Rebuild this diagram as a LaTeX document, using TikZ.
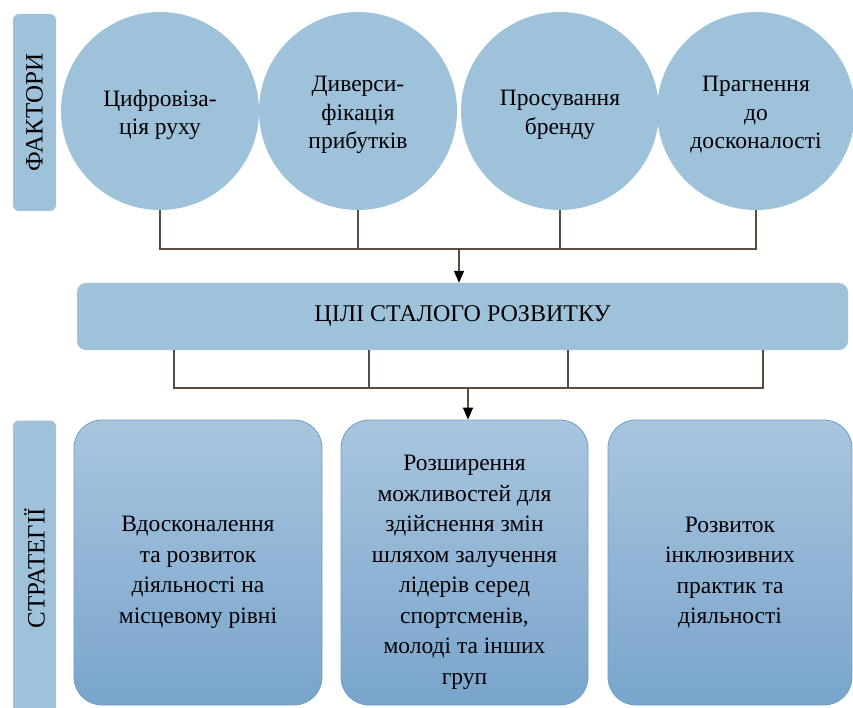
\documentclass[tikz,border=0pt]{standalone}
\usepackage{fontspec}
\setmainfont{Liberation Serif}
\usetikzlibrary{arrows.meta}
\definecolor{softblue}{HTML}{9DC2D9}
\definecolor{boxtop}{HTML}{A9C5DE}
\definecolor{boxbottom}{HTML}{79A5CC}
\definecolor{boxline}{HTML}{6C9DC7}
\definecolor{linkbrown}{HTML}{5B4C3F}

\tikzset{
  sidelabel/.style={rounded corners=6pt, fill=softblue, minimum height=43pt,
    inner sep=0pt, rotate=90, font=\fontsize{25}{28}\selectfont},
  factor/.style={circle, fill=softblue, minimum size=198pt, inner sep=0pt},
  factortext/.style={align=center, inner sep=0pt, yshift=-4pt,
    font=\fontsize{23.5}{28.5}\selectfont},
  goalbar/.style={rounded corners=9pt, fill=softblue, minimum width=771pt,
    minimum height=67pt, font=\fontsize{24}{28}\selectfont},
  strategy/.style={rounded corners=28pt, draw=boxline, line width=0.8pt,
    top color=boxtop, bottom color=boxbottom, minimum width=248pt,
    minimum height=285pt, inner sep=0pt},
  strategytext/.style={align=center, inner sep=0pt, yshift=-10pt,
    font=\fontsize{23.5}{30.5}\selectfont},
  link/.style={draw=linkbrown, line width=1.2pt},
  arr/.style={link, -{Triangle[length=12pt,width=10pt,color=black]}}
}

\begin{document}
\begin{tikzpicture}[x=1pt,y=-1pt]
\useasboundingbox (0,0) rectangle (853,708);

% side labels
\node[sidelabel, minimum width=197pt] (factors) at (34.5,112.5) {ФАКТОРИ};
\node[sidelabel, minimum width=295pt] (strategies) at (34.5,568) {СТРАТЕГІЇ};

% factors
\node[factor] (c1) at (160,111) {};
\node[factor] (c2) at (358,111) {};
\node[factor] (c3) at (560,111) {};
\node[factor] (c4) at (756,111) {};
\node[factortext] (c1text) at (c1) {Цифровіза-\\ція руху};
\node[factortext] (c2text) at (c2) {Диверси-\\фікація\\прибутків};
\node[factortext] (c3text) at (c3) {Просування\\бренду};
\node[factortext] (c4text) at (c4) {Прагнення\\до\\досконалості};

% goals
\node[goalbar] (goals) at (462.5,316.5) {ЦІЛІ СТАЛОГО РОЗВИТКУ};

% strategies
\node[strategy] (s1) at (198,562.5) {};
\node[strategy, minimum width=247pt] (s2) at (464.5,562.5) {};
\node[strategy, minimum width=244pt] (s3) at (730,562.5) {};
\node[strategytext] (s1text) at (s1) {Вдосконалення\\та розвиток\\діяльності на\\місцевому рівні};
\node[strategytext] (s2text) at (s2) {Розширення\\можливостей для\\здійснення змін\\шляхом залучення\\лідерів серед\\спортсменів,\\молоді та інших\\груп};
\node[strategytext] (s3text) at (s3) {Розвиток\\інклюзивних\\практик та\\діяльності};

% factors -> goals
\coordinate (j1) at (459,249);
\draw[link] (c1.south) |- (c4.south |- j1) -- (c4.south);
\draw[link] (c2.south) -- (c2.south |- j1);
\draw[link] (c3.south) -- (c3.south |- j1);
\draw[arr] (j1) -- (j1 |- goals.north);

% goals -> strategies
\coordinate (j2) at (468,388);
\coordinate (t1) at (174,388);
\coordinate (t2) at (369,388);
\coordinate (t3) at (568,388);
\coordinate (t4) at (763,388);
\draw[link] (t1 |- goals.south) -- (t1) -- (t4) -- (t4 |- goals.south);
\foreach \t in {t2,t3}
  \draw[link] (\t |- goals.south) -- (\t);
\draw[arr] (j2) -- (j2 |- s2.north);
\end{tikzpicture}
\end{document}
